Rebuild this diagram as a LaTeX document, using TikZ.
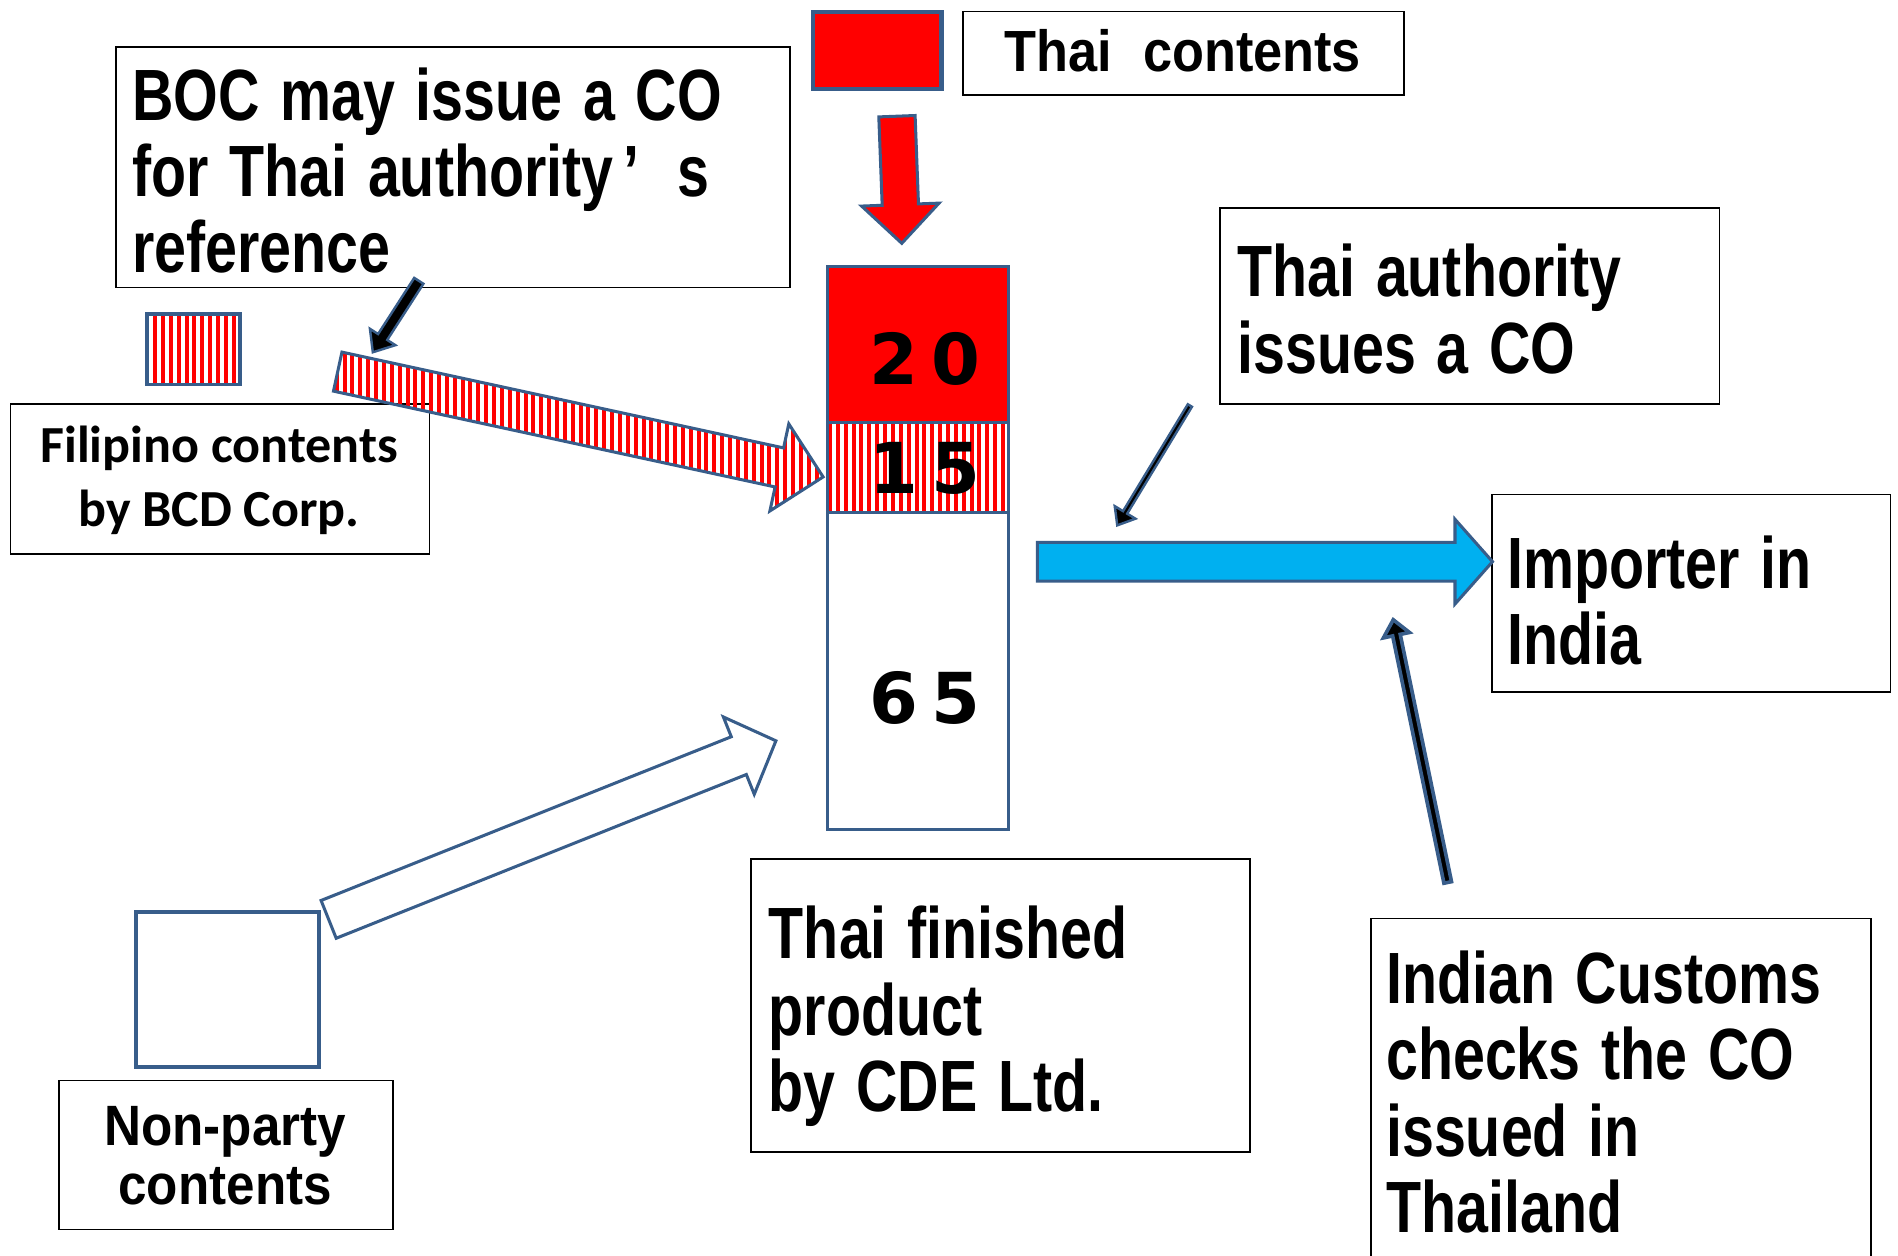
\documentclass[tikz,border=0pt]{standalone}
\usepackage{fontspec}
\setmainfont{Liberation Sans}
\newfontfamily\condf{Liberation Sans Bold}[FakeStretch=0.79,WordSpace=1.3]
\newfontfamily\popf{Liberation Sans Bold}[FakeStretch=0.9]
\newfontfamily\digf{DejaVu Sans Bold}
\newfontfamily\calf{Carlito Bold}
\usetikzlibrary{calc}
\definecolor{obl}{HTML}{385D8A}
\definecolor{ocyan}{HTML}{00B0F0}
\definecolor{ored}{HTML}{FF0000}

% block arrow coordinates: name, start, end, half shaft, half head, head length
\newcommand\mkarrow[6]{%
  \coordinate (#1-s) at #2;
  \coordinate (#1-e) at #3;
  \coordinate (#1-h) at ($(#1-e)!#6!(#1-s)$);
  \coordinate (#1-1) at ($(#1-s)!#4!90:(#1-e)$);
  \coordinate (#1-2) at ($(#1-h)!#4!90:(#1-e)$);
  \coordinate (#1-3) at ($(#1-h)!#5!90:(#1-e)$);
  \coordinate (#1-5) at ($(#1-h)!#5!-90:(#1-e)$);
  \coordinate (#1-6) at ($(#1-h)!#4!-90:(#1-e)$);
  \coordinate (#1-7) at ($(#1-s)!#4!-90:(#1-e)$);
}
\newcommand\arrowpath[1]{(#1-1)--(#1-2)--(#1-3)--(#1-e)--(#1-5)--(#1-6)--(#1-7)--cycle}

\tikzset{
  lbox/.style={draw=black, line width=1.3pt, fill=white, inner sep=0pt, anchor=north west},
  bigtxt/.style={font=\condf\fontsize{60}{63}\selectfont, align=left, inner sep=0pt, anchor=north west},
  poptxt/.style={font=\popf\fontsize{48}{49}\selectfont, align=center, inner sep=0pt},
  caltxt/.style={font=\calf\fontsize{43}{53}\selectfont, align=center, inner sep=0pt},
  numtxt/.style={font=\digf\fontsize{58}{60}\selectfont, inner sep=0pt, anchor=base},
  seg/.style={draw=obl, line width=2.5pt, minimum width=150pt, inner sep=0pt, anchor=north west},
  bluesq/.style={draw=obl, line width=3pt, inner sep=0pt, anchor=north west},
  blockarr/.style={draw=obl, line width=2.5pt, line join=miter},
  thinarr/.style={draw=obl, fill=black, line join=miter},
}

\begin{document}
\begin{tikzpicture}[x=1pt,y=-1pt]
\useasboundingbox (0,0) rectangle (1568,1037);
\fill[white] (0,0) rectangle (1568,1037);

% ---------- label boxes ----------
\node[lbox, minimum width=557pt, minimum height=199pt] (bocbox) at (95,38) {};
\node[bigtxt] (boctxt) at (109,49) {\rule{0pt}{50pt}BOC may issue a CO\\for Thai authority\hspace{8pt}’\hspace{32pt}s\\reference};

\node[lbox, minimum width=364pt, minimum height=69pt] (thaibox) at (795,9) {};
\node[poptxt, anchor=base] (thaitxt) at (977,59) {Thai\hspace{14pt} contents};

\node[lbox, minimum width=346pt, minimum height=124pt] (filbox) at (8,333) {};
\node[caltxt, anchor=north] (filtxt) at (181,342) {\rule{0pt}{40pt}Filipino contents\\by BCD Corp.};

\node[lbox, minimum width=413pt, minimum height=162pt] (authbox) at (1007,171) {};
\node[bigtxt] (authtxt) at (1022,195) {\rule{0pt}{50pt}Thai authority\\issues a CO};

\node[lbox, minimum width=329pt, minimum height=163pt] (impbox) at (1232,408) {};
\node[bigtxt] (imptxt) at (1245,436) {\rule{0pt}{50pt}Importer in\\India};

\node[lbox, minimum width=412pt, minimum height=242pt] (finbox) at (620,709) {};
\node[bigtxt] (fintxt) at (635,742) {\rule{0pt}{50pt}Thai finished\\product\\by CDE Ltd.};

\node[lbox, minimum width=413pt, minimum height=295pt] (indbox) at (1132,758) {};
\node[bigtxt] (indtxt) at (1145,779) {\rule{0pt}{50pt}Indian Customs\\checks the CO\\issued in\\Thailand};

\node[lbox, minimum width=276pt, minimum height=123pt] (npbox) at (48,892) {};
\node[poptxt, anchor=north, font=\popf\fontsize{47}{48.5}\selectfont] (nptxt) at (186,901) {\rule{0pt}{45pt}Non-party\\contents};

% ---------- small legend squares ----------
\node[bluesq, line width=3.5pt, fill=ored, minimum width=106pt, minimum height=64pt] (thaisq) at (670,8) {};

\begin{scope}
  \clip (120,258) rectangle (197,316);
  \foreach \xx in {120,126.5,...,200} \fill[ored] (\xx,255) rectangle (\xx+3.3,320);
\end{scope}
\node[bluesq, minimum width=77pt, minimum height=58pt] (filsq) at (120,258) {};

\node[bluesq, minimum width=151pt, minimum height=128pt] (npsq) at (111,752) {};

% ---------- stacked bar ----------
\node[seg, fill=ored, minimum height=129pt] (s20) at (682,219) {};
\begin{scope}
  \clip (682,348) rectangle (832,422);
  \foreach \xx in {684,690.5,...,835} \fill[ored] (\xx,345) rectangle (\xx+3.3,425);
\end{scope}
\node[seg, minimum height=74pt] (s15) at (682,348) {};
\node[seg, fill=white, minimum height=262pt] (s65) at (682,422) {};

\node[numtxt] (n20) at (764,318) {2\hspace{11pt}0};
\node[numtxt] (n15) at (764,408) {1\hspace{11pt}5};
\node[numtxt] (n65) at (764,598) {6\hspace{11pt}5};

% ---------- block arrows ----------
\mkarrow{ra}{(741,96)}{(745,201)}{15pt}{32pt}{32pt}
\draw[blockarr, fill=ored] \arrowpath{ra};

\mkarrow{sa}{(279,307)}{(680,394)}{16.5pt}{36.8pt}{37pt}
\begin{scope}
  \clip \arrowpath{sa};
  \foreach \xx in {270,276.5,...,690} \fill[ored] (\xx,280) rectangle (\xx+3.3,440);
\end{scope}
\draw[blockarr] \arrowpath{sa};

\mkarrow{na}{(271.5,759.5)}{(641,612)}{16.8pt}{34.4pt}{33pt}
\draw[blockarr, fill=white] \arrowpath{na};

\mkarrow{ca}{(857,464)}{(1233,464)}{16pt}{35pt}{31pt}
\draw[blockarr, fill=ocyan] \arrowpath{ca};

% ---------- thin pointer arrows ----------
\mkarrow{ba}{(346,232)}{(308,291)}{4.5pt}{12.5pt}{15pt}
\draw[thinarr, line width=2pt] \arrowpath{ba};

\mkarrow{ta}{(983,335)}{(923,434)}{2pt}{10pt}{12.5pt}
\draw[thinarr, line width=2pt] \arrowpath{ta};

\mkarrow{ia}{(1196,729)}{(1151,512)}{3.2pt}{11pt}{13pt}
\draw[thinarr, line width=3pt] \arrowpath{ia};
\end{tikzpicture}
\end{document}
